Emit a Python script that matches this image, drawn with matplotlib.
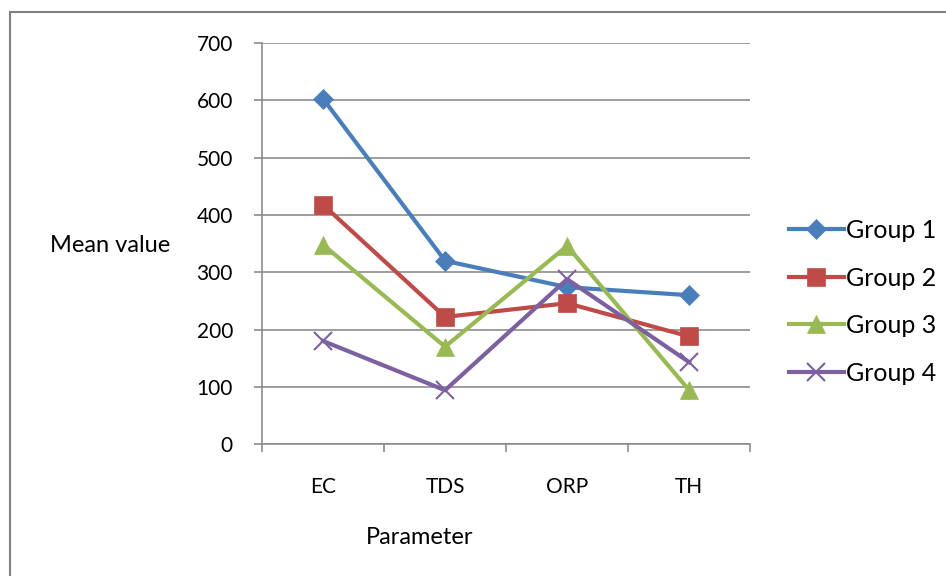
import matplotlib.pyplot as plt
from matplotlib.patches import Rectangle

# Mean values of each water-quality parameter by group
parameters = ["EC", "TDS", "ORP", "TH"]
group_names = ["Group 1", "Group 2", "Group 3", "Group 4"]
group1 = [603, 320, 274, 260]
group2 = [418, 222, 246, 188]
group3 = [348, 170, 346, 94]
group4 = [180, 94, 288, 143]

colors = ["#4A7EBB", "#BE4B48", "#98B954", "#7D60A0"]
markers = ["D", "s", "^", "x"]
marker_sizes = [10, 13, 13, 13]

plt.rcParams["font.family"] = ["Lato", "DejaVu Sans"]

fig = plt.figure(figsize=(9.46, 5.76), dpi=100)
ax = fig.add_axes([0.277, 0.229, 0.516, 0.696])

# chart area frame (clipped on the right and bottom)
fig.patches.append(Rectangle((10 / 946, -0.05), 1.2, 1 - 12 / 576 + 0.05,
                             transform=fig.transFigure, fill=False,
                             edgecolor="#808080", linewidth=1.5))

x = range(len(parameters))
for vals, name, c, m, ms in zip([group1, group2, group3, group4], group_names,
                                colors, markers, marker_sizes):
    ax.plot(x, vals, color=c, marker=m, markersize=ms, linewidth=3,
            markeredgewidth=1.5 if m == "x" else 0.5, label=name,
            markeredgecolor=c, zorder=3)

ax.set_xlim(-0.5, len(parameters) - 0.5)
ax.set_ylim(0, 700)
ax.set_yticks(range(0, 701, 100))
ax.set_xticks(list(x))
ax.set_xticklabels(parameters)
ax.set_xticks([i - 0.5 for i in range(len(parameters) + 1)], minor=True)

ax.grid(axis="y", color="#8C8C8C", linewidth=1.2)
ax.set_axisbelow(True)
for side in ["top", "right"]:
    ax.spines[side].set_visible(False)
for side in ["left", "bottom"]:
    ax.spines[side].set_color("#8C8C8C")
    ax.spines[side].set_linewidth(1.2)

ax.tick_params(axis="x", which="major", length=0, pad=24, labelsize=15)
ax.tick_params(axis="x", which="minor", length=6, color="#8C8C8C", width=1.2)
ax.tick_params(axis="y", length=6, color="#8C8C8C", width=1.2, pad=15,
               labelsize=15)

fig.text(110 / 946, 1 - 245 / 576, "Mean value", ha="center", va="center",
         fontsize=17)
fig.text(420 / 946, 1 - 537 / 576, "Parameter", ha="center", va="center",
         fontsize=17)

fig.legend(loc="center left", bbox_to_anchor=(0.834, 0.476), frameon=False,
           fontsize=18, handlelength=2.2, handletextpad=0.1, labelspacing=0.98,
           borderaxespad=0, borderpad=0)

fig.savefig("out.png", dpi=100)
